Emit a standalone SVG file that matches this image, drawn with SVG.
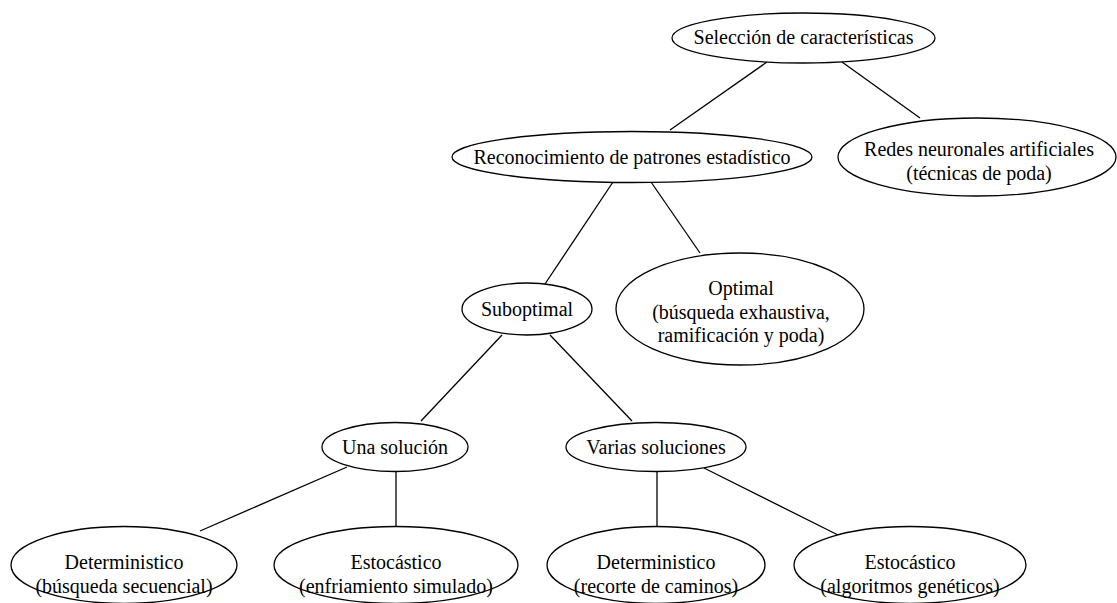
<svg xmlns="http://www.w3.org/2000/svg" width="1117" height="603" viewBox="0 0 1117 603">
<style>
.n ellipse{fill:#fff;stroke:#000;stroke-width:1.3}
.n text{font-family:"Liberation Serif","Times New Roman",serif;font-size:20px;fill:#000;text-anchor:middle}
.e line{stroke:#000;stroke-width:1.3}
</style>
<rect width="1117" height="603" fill="#fff"/>
<g class="e" id="connectors">
<line x1="767" y1="62" x2="670" y2="130"/>
<line x1="842" y1="62" x2="920" y2="118"/>
<line x1="613" y1="182" x2="545" y2="284"/>
<line x1="651" y1="182" x2="700" y2="253"/>
<line x1="502" y1="335" x2="421" y2="421"/>
<line x1="550" y1="335" x2="632" y2="421"/>
<line x1="347" y1="467" x2="200" y2="531"/>
<line x1="396" y1="472" x2="396" y2="527"/>
<line x1="657" y1="472" x2="657" y2="527"/>
<line x1="704" y1="468" x2="840" y2="536"/>
</g>
<g class="n" id="root"><ellipse cx="803.5" cy="38" rx="131.5" ry="25"/><text x="803.5" y="44">Selección de características</text></g>
<g class="n" id="reconocimiento"><ellipse cx="632" cy="157" rx="180" ry="25.5"/><text x="632" y="164">Reconocimiento de patrones estadístico</text></g>
<g class="n" id="redes"><ellipse cx="977" cy="157" rx="139" ry="39"/><text x="979" y="156">Redes neuronales artificiales</text><text x="979" y="180">(técnicas de poda)</text></g>
<g class="n" id="suboptimal"><ellipse cx="527" cy="309" rx="65" ry="26"/><text x="527" y="316">Suboptimal</text></g>
<g class="n" id="optimal"><ellipse cx="740" cy="309" rx="124" ry="56"/><text x="741" y="295">Optimal</text><text x="741" y="318.5">(búsqueda exhaustiva,</text><text x="741" y="342">ramificación y poda)</text></g>
<g class="n" id="una"><ellipse cx="395" cy="447" rx="73" ry="24.5"/><text x="395" y="453.5">Una solución</text></g>
<g class="n" id="varias"><ellipse cx="656" cy="447" rx="90" ry="24.5"/><text x="656" y="453.5">Varias soluciones</text></g>
<g class="n" id="det1"><ellipse cx="124" cy="565" rx="113" ry="38.5"/><text x="124" y="569">Deterministico</text><text x="124" y="593">(búsqueda secuencial)</text></g>
<g class="n" id="est1"><ellipse cx="396" cy="565" rx="122" ry="38.5"/><text x="396" y="569">Estocástico</text><text x="396" y="593">(enfriamiento simulado)</text></g>
<g class="n" id="det2"><ellipse cx="656" cy="565" rx="109" ry="38.5"/><text x="656" y="569">Deterministico</text><text x="656" y="593">(recorte de caminos)</text></g>
<g class="n" id="est2"><ellipse cx="910" cy="565" rx="116" ry="38.5"/><text x="910" y="569">Estocástico</text><text x="910" y="593">(algoritmos genéticos)</text></g>
</svg>
